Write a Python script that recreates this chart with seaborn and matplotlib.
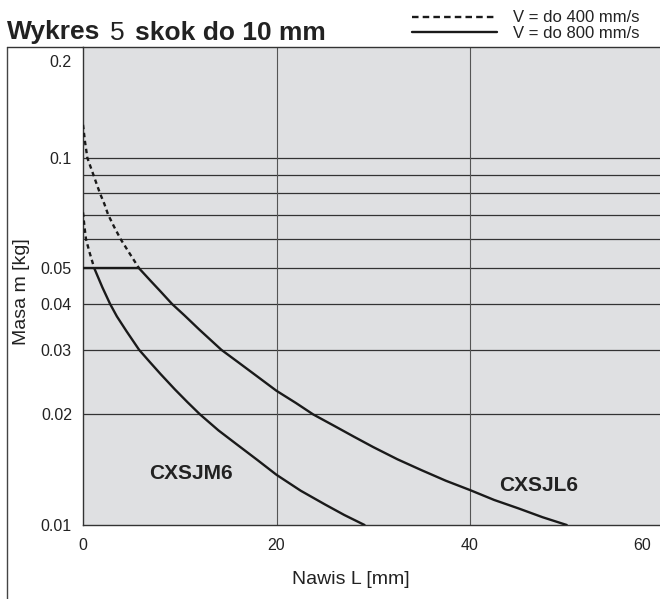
import numpy as np
import pandas as pd
import matplotlib
matplotlib.use("Agg")
import matplotlib.pyplot as plt
import seaborn as sns
from matplotlib.lines import Line2D
from matplotlib.transforms import ScaledTranslation

# ---------------------------------------------------------
# data (L in mm, m in kg)
# ---------------------------------------------------------
jl6_dash_L = [0, 0.2, 0.45, 0.75, 1.07, 1.4, 1.76, 2.2, 2.6, 3.2, 3.9, 4.8, 5.8]
jl6_dash_m = [0.123, 0.111, 0.1, 0.095, 0.09, 0.085, 0.08, 0.075, 0.07, 0.065, 0.06, 0.055, 0.05]
jl6_solid_L = [5.8, 7, 8, 9.2, 10.5, 12, 14.3, 16, 18, 20, 22, 23.8, 26, 28, 30,
               32.5, 35, 37.5, 40, 42.5, 45, 47.5, 50]
jl6_solid_m = [0.05, 0.0462, 0.0433, 0.04, 0.0372, 0.0341, 0.03, 0.0278, 0.0254, 0.0232,
               0.0215, 0.02, 0.0186, 0.0174, 0.0163, 0.0151, 0.0141, 0.0132, 0.01245,
               0.0117, 0.0111, 0.0105, 0.01]

jm6_dash_L = [0, 0.15, 0.31, 0.7, 1.17]
jm6_dash_m = [0.071, 0.065, 0.06, 0.055, 0.05]
jm6_solid_L = [1.17, 2, 2.8, 3.5, 4.5, 5.8, 6.9, 8, 9.5, 10.8, 12.1, 14, 16, 18, 20,
               22.5, 25, 27, 29.1]
jm6_solid_m = [0.05, 0.0444, 0.04, 0.037, 0.0337, 0.03, 0.0278, 0.0258, 0.0234, 0.0216,
               0.02, 0.0181, 0.0165, 0.01505, 0.0137, 0.0124, 0.01138, 0.01065, 0.01]

limit_L = [0, 5.8]
limit_m = [0.05, 0.05]

x_ticks = [0, 20, 40, 60]
y_ticks = [0.01, 0.02, 0.03, 0.04, 0.05, 0.06, 0.07, 0.08, 0.09, 0.1, 0.2]
y_labels = ["0.01", "0.02", "0.03", "0.04", "0.05", "", "", "", "", "0.1", "0.2"]

W, H = 660, 599

sns.set_style("white")
plt.rcParams["font.family"] = ["Liberation Sans", "DejaVu Sans"]
plt.rcParams["lines.scale_dashes"] = False

fig = plt.figure(figsize=(W / 100, H / 100), dpi=100)
ax = fig.add_axes([83 / W, (H - 525) / H, (663.5 - 83) / W, (525 - 47.3) / H])
ax.set_facecolor("#dfe0e2")

# grid lines
for y in y_ticks[1:-1]:
    ax.axhline(y, color="#333333", lw=0.9, zorder=1)
for x in x_ticks[1:-1]:
    ax.axvline(x, color="#555555", lw=0.8, zorder=1)

lw = 1.7
dash = (0, (3.2, 2.6))
segments = [
    (jl6_dash_L, jl6_dash_m, dash),
    (jl6_solid_L, jl6_solid_m, "-"),
    (jm6_dash_L, jm6_dash_m, dash),
    (jm6_solid_L, jm6_solid_m, "-"),
    (limit_L, limit_m, "-"),
]
for xs, ys, ls in segments:
    df = pd.DataFrame({"L": xs, "m": ys})
    sns.lineplot(data=df, x="L", y="m", ax=ax, color="#1a1a1a", lw=lw,
                 linestyle=ls, sort=False, estimator=None, zorder=3)

ax.set_yscale("log")
ax.set_xlim(0, 60)
ax.set_ylim(0.01, 0.2)
ax.set_xticks(x_ticks)
ax.set_xticklabels([str(t) for t in x_ticks])
ax.set_yticks(y_ticks)
ax.set_yticklabels(y_labels)
ax.yaxis.set_minor_locator(matplotlib.ticker.NullLocator())
ax.tick_params(axis="both", length=0, labelsize=11.5, colors="#222222")
ax.tick_params(axis="x", pad=9)
ax.tick_params(axis="y", pad=8)
ax.set_xlabel("")
ax.set_ylabel("")

# "0.2" sits a bit below the top edge, "60" is pulled inside the picture
top_lbl = ax.yaxis.get_major_ticks()[-1].label1
top_lbl.set_transform(top_lbl.get_transform() + ScaledTranslation(0, -14 / 100, fig.dpi_scale_trans))
end_lbl = ax.xaxis.get_major_ticks()[-1].label1
end_lbl.set_transform(end_lbl.get_transform() + ScaledTranslation(-21 / 100, 0, fig.dpi_scale_trans))

for s in ["left", "bottom", "top"]:
    ax.spines[s].set_color("#333333")
    ax.spines[s].set_linewidth(1.0)
ax.spines["right"].set_visible(False)

ax.text(11.2, 0.0138, "CXSJM6", fontsize=15, fontweight="bold", color="#222222",
        ha="center", va="center")
ax.text(47.1, 0.01285, "CXSJL6", fontsize=15, fontweight="bold", color="#222222",
        ha="center", va="center")

# axis labels
fig.text(351 / W, 1 - 580 / H, "Nawis L [mm]", fontsize=14, ha="center", va="center",
         color="#222222")
fig.text(22 / W, 1 - 292 / H, "Masa m [kg]", fontsize=14, ha="center", va="center",
         rotation=90, color="#222222")

# outer frame (left + top)
fig.add_artist(Line2D([7.3 / W, 7.3 / W], [0, 1 - 47.3 / H], color="#444444", lw=1.0))
fig.add_artist(Line2D([7.3 / W, 83 / W], [1 - 47.3 / H, 1 - 47.3 / H], color="#333333", lw=1.0))

# title
ty = 1 - 39.5 / H
fig.text(7 / W, ty, "Wykres", fontsize=19, fontweight="bold", va="baseline", color="#222222")
fig.text(110 / W, ty, "5", fontsize=19, va="baseline", color="#222222")
fig.text(135 / W, ty, "skok do 10 mm", fontsize=19, fontweight="bold", va="baseline",
         color="#222222")

# legend
handles = [Line2D([], [], color="#1a1a1a", lw=1.7, linestyle=(0, (4.7, 3.0))),
           Line2D([], [], color="#1a1a1a", lw=1.7)]
fig.legend(handles, ["V = do 400 mm/s", "V = do 800 mm/s"], loc="upper left",
           bbox_to_anchor=(404 / W, 1 - 2 / H), frameon=False, fontsize=12,
           handlelength=5.1, handletextpad=0.95, labelspacing=0.05, borderpad=0,
           labelcolor="#222222")

fig.savefig("out.png", dpi=100)
